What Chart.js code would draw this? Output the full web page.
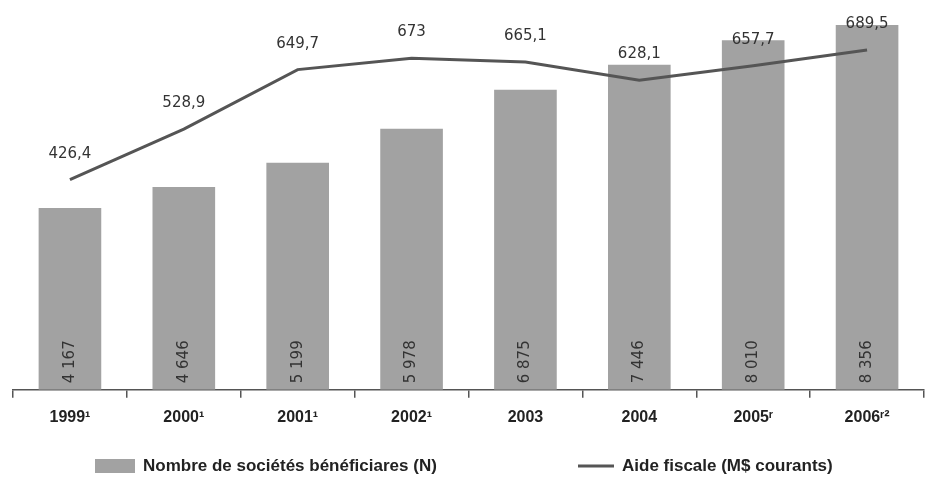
<!DOCTYPE html>
<html>
<head>
<meta charset="utf-8">
<script src="https://cdn.jsdelivr.net/npm/chart.js@4"></script>
<style>
  html, body { margin: 0; padding: 0; background: #fff; }
  #wrap { width: 925px; height: 483px; }
</style>
</head>
<body>
<div id="wrap"><canvas id="graphique"></canvas></div>
<script>
// ======= DONNEES =======
const annees = ["1999¹", "2000¹", "2001¹", "2002¹", "2003", "2004", "2005ʳ", "2006ʳ²"];
const societes = [4167, 4646, 5199, 5978, 6875, 7446, 8010, 8356];
const aideFiscale = [426.4, 528.9, 649.7, 673, 665.1, 628.1, 657.7, 689.5];
const legendeBarres = "Nombre de sociétés bénéficiares (N)";
const legendeLigne = "Aide fiscale (M$ courants)";

const GRIS_BARRE = "#a2a2a2";
const GRIS_LIGNE = "#555555";

// ======= FORMATS =======
function fmtN(v){ return String(v).replace(/\B(?=(\d{3})+(?!\d))/g, " "); }
function fmtV(v){ return String(v).replace(".", ","); }

// etiquettes des valeurs + legende maison
const etiquettes = {
  id: "etiquettes",
  afterDatasetsDraw(chart){
    const ctx = chart.ctx;
    ctx.save();
    ctx.fillStyle = "#333";
    ctx.textAlign = "center";
    ctx.textBaseline = "middle";
    // barres : texte vertical en bas de la barre
    ctx.font = "15px 'DejaVu Sans'";
    chart.getDatasetMeta(1).data.forEach((b, i) => {
      ctx.save();
      ctx.translate(b.x, b.base - 28);
      ctx.rotate(-Math.PI / 2);
      ctx.fillText(fmtN(societes[i]), 0, 0);
      ctx.restore();
    });
    // ligne : valeur au-dessus du point
    ctx.font = "15px 'DejaVu Sans'";
    chart.getDatasetMeta(0).data.forEach((p, i) => {
      ctx.fillText(fmtV(aideFiscale[i]), p.x, p.y - 26);
    });
    ctx.restore();
  },
  afterDraw(chart){
    const ctx = chart.ctx;
    ctx.save();
    const y = 466;
    ctx.fillStyle = GRIS_BARRE;
    ctx.fillRect(95, y - 7, 40, 14);
    ctx.strokeStyle = GRIS_LIGNE; ctx.lineWidth = 3;
    ctx.beginPath(); ctx.moveTo(578, y); ctx.lineTo(614, y); ctx.stroke();
    ctx.fillStyle = "#222";
    ctx.font = "bold 17px 'Liberation Sans'";
    ctx.textAlign = "left"; ctx.textBaseline = "middle";
    ctx.fillText(legendeBarres, 143, y);
    ctx.fillText(legendeLigne, 622, y);
    ctx.restore();
  }
};

// ======= GRAPHIQUE =======
new Chart(document.getElementById("graphique"), {
  data: {
    labels: annees,
    datasets: [
      { type: "line", label: legendeLigne, data: aideFiscale, yAxisID: "y1", order: 0,
        borderColor: GRIS_LIGNE, borderWidth: 3, pointRadius: 0, tension: 0, fill: false },
      { type: "bar", label: legendeBarres, data: societes, yAxisID: "y", order: 1,
        backgroundColor: GRIS_BARRE, barPercentage: 0.55, categoryPercentage: 1 }
    ]
  },
  options: {
    responsive: true,
    maintainAspectRatio: false,
    animation: false,
    devicePixelRatio: 1,
    layout: { padding: { left: 13, right: 1, top: 0, bottom: 46 } },
    plugins: { legend: { display: false }, tooltip: { enabled: false } },
    scales: {
      x: {
        offset: true,
        grid: { offset: true, drawOnChartArea: false, tickLength: 8, color: GRIS_LIGNE, lineWidth: 1.5 },
        border: { color: GRIS_LIGNE, width: 1.5 },
        ticks: { color: "#222", padding: 10, maxRotation: 0,
          font: { family: "'Liberation Sans Narrow', 'Liberation Sans', sans-serif", size: 16, weight: "bold" } }
      },
      y: { display: false, min: 0, max: 8930 },
      y1: { display: false, min: 0, max: 791 }
    }
  },
  plugins: [etiquettes]
});
</script>
</body>
</html>
